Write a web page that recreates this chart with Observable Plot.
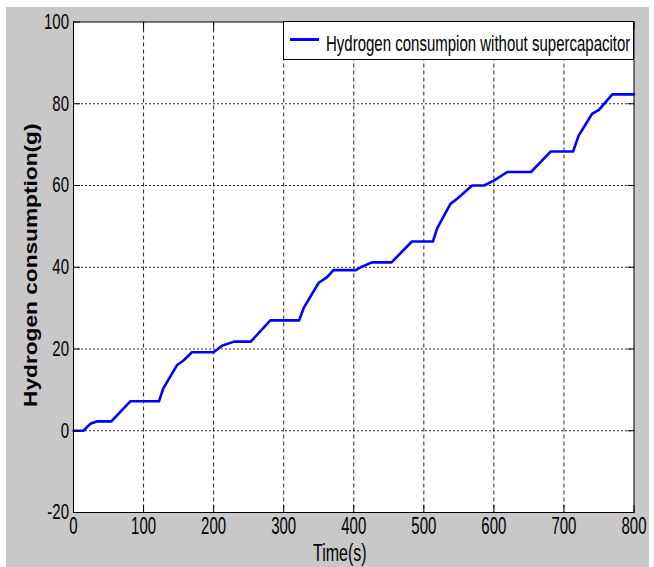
<!DOCTYPE html>
<html>
<head>
<meta charset="utf-8">
<script src="https://cdn.jsdelivr.net/npm/d3@7"></script>
<script src="https://cdn.jsdelivr.net/npm/@observablehq/plot@0.6"></script>
<style>
  html, body { margin: 0; padding: 0; background: #ffffff; }
  #page { position: relative; width: 654px; height: 567px; overflow: hidden; font-family: "Liberation Sans", Arial, sans-serif; }
  #chart { position: absolute; left: 6px; top: 7px; }
  #legend { position: absolute; left: 283px; top: 21px; width: 351px; height: 39px; background: #ffffff; border: 1px solid #000; box-sizing: border-box; }
  #legend .swatch { position: absolute; left: 6px; top: 16px; width: 29px; height: 2.6px; background: #0000ff; }
  #legend .lt { position: absolute; left: 42px; top: 9.7px; font-size: 15px; line-height: 15px; white-space: nowrap; color: #000; transform: scaleY(1.45); transform-origin: 0 0; }
</style>
</head>
<body>
<div id="page">
  <div id="chart"></div>
  <div id="legend"><div class="swatch"></div><span class="lt" id="legendText"></span></div>
</div>
<script>
// ---- data ----
const timeS = [0, 14, 24, 34, 54, 81, 122, 128, 148, 157, 169, 200, 212, 229, 253, 281, 322, 329, 350, 362, 371, 403, 410, 426, 454, 483, 513, 519, 538, 548, 569, 586, 600, 619, 653, 681, 713, 721, 740, 750, 769, 800];
const hydrogenG = [0, 0, 1.7, 2.3, 2.3, 7.2, 7.2, 10.3, 16.1, 17.2, 19.2, 19.2, 20.8, 21.8, 21.8, 27.0, 27.0, 30.2, 36.2, 37.6, 39.3, 39.3, 40.0, 41.2, 41.2, 46.3, 46.3, 49.5, 55.5, 56.8, 60.0, 60.0, 61.2, 63.3, 63.3, 68.3, 68.3, 72.2, 77.5, 78.5, 82.3, 82.3];
const xTicks = [0, 100, 200, 300, 400, 500, 600, 700, 800];
const yTicks = [-20, 0, 20, 40, 60, 80, 100];
const xGridTicks = [100, 200, 300, 400, 500, 600, 700];
const yGridTicks = [0, 20, 40, 60, 80];
const seriesLabel = "Hydrogen consumpion without supercapacitor";
const xTitle = "Time(s)";
const yTitle = "Hydrogen consumption(g)";

const table = timeS.map((t, i) => ({t, h: hydrogenG[i]}));
const noText = () => "";

const chart = Plot.plot({
  width: 643,
  height: 560,
  marginLeft: 67,
  marginRight: 15.5,
  marginTop: 14.5,
  marginBottom: 55,
  style: {background: "#c8c8c8", fontFamily: "'Liberation Sans', Arial, sans-serif", fontSize: "15px", color: "#000", overflow: "visible"},
  x: {domain: [0, 800]},
  y: {domain: [-20, 100]},
  marks: [
    Plot.frame({fill: "#ffffff", stroke: null}),
    Plot.gridX(xGridTicks, {stroke: "#000", strokeOpacity: 0.85, strokeDasharray: "4,3"}),
    Plot.gridY(yGridTicks, {stroke: "#000", strokeOpacity: 0.85, strokeDasharray: "2,2"}),
    Plot.line(table, {x: "t", y: "h", stroke: "#0000ff", strokeWidth: 2.6}),
    Plot.axisX(xTicks, {anchor: "bottom", tickSize: -7, tickPadding: 12, label: null, tickFormat: d => String(d)}),
    Plot.axisX(xTicks, {anchor: "top", tickSize: -7, label: null, tickFormat: noText}),
    Plot.axisY(yTicks, {anchor: "left", tickSize: -7, tickPadding: 11.5, label: null, tickFormat: d => String(d)}),
    Plot.axisY(yTicks, {anchor: "right", tickSize: -7, label: null, tickFormat: noText}),
    Plot.frame({stroke: "#000", strokeWidth: 1}),
    Plot.text([yTitle], {frameAnchor: "left", rotate: -90, lineAnchor: "bottom", textAnchor: "middle", dx: -37, dy: -2, fontWeight: "bold", fontSize: 18, fill: "#000"}),
    Plot.text([xTitle], {frameAnchor: "bottom", lineAnchor: "top", textAnchor: "middle", dx: -14, dy: 31, fontSize: 16, fill: "#000"})
  ]
});

document.getElementById("chart").appendChild(chart);
document.getElementById("legendText").textContent = seriesLabel;

// The reference picture is stretched vertically: stretch the texts the same way.
function addScale(el, sx, sy) {
  const t = el.getAttribute("transform");
  if (t) {
    el.setAttribute("transform", `${t} scale(${sx},${sy})`);
  } else {
    const x = el.x.baseVal.numberOfItems ? el.x.baseVal.getItem(0).value : 0;
    const y = el.y.baseVal.numberOfItems ? el.y.baseVal.getItem(0).value : 0;
    el.setAttribute("transform", `translate(${x},${y}) scale(${sx},${sy}) translate(${-x},${-y})`);
  }
}
chart.querySelectorAll("text").forEach(el => {
  const s = el.textContent.trim();
  if (s === "") return;
  if (s === yTitle) addScale(el, 1.26, 1);
  else if (s === xTitle) addScale(el, 1, 1.5);
  else if (getComputedStyle(el).textAnchor === "end") addScale(el, 1, 1.45);
  else addScale(el, 1, 1.55);
});
</script>
</body>
</html>
